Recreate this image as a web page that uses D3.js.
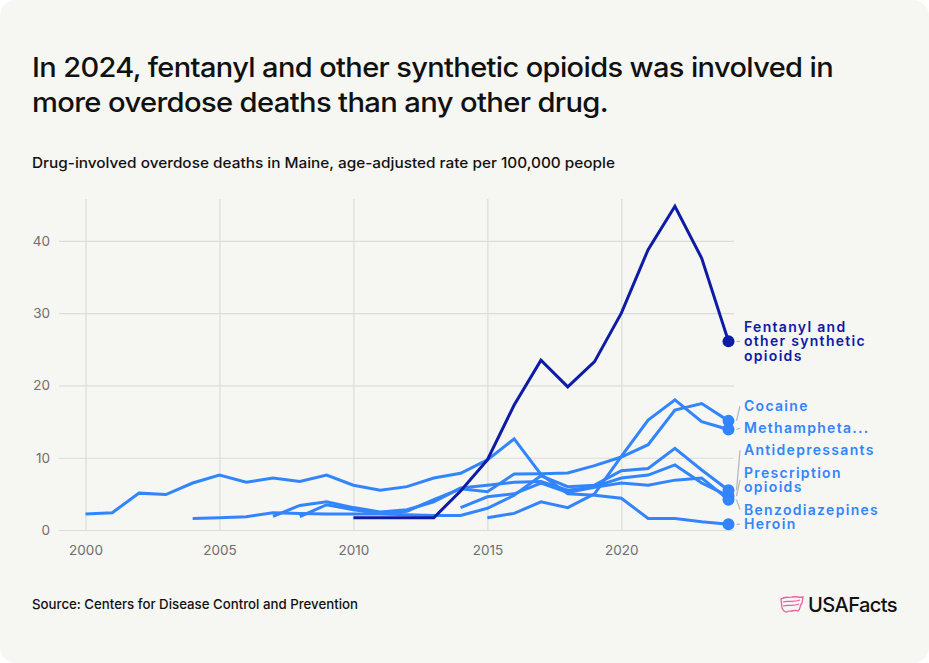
<!DOCTYPE html>
<html>
<head>
<meta charset="utf-8">
<script src="https://cdn.jsdelivr.net/npm/d3@7"></script>
<style>
  html, body { margin: 0; padding: 0; background: #ffffff; }
  svg { display: block; }
  text { font-family: Inter, "Noto Sans", sans-serif; }
</style>
</head>
<body>
<svg id="chart" width="929" height="663"></svg>
<script>
// ---------------- DATA ----------------
const titleLines = [
  "In 2024, fentanyl and other synthetic opioids was involved in",
  "more overdose deaths than any other drug."
];
const subtitle = "Drug-involved overdose deaths in Maine, age-adjusted rate per 100,000 people";
const sourceText = "Source: Centers for Disease Control and Prevention";

const xTicks = [2000, 2005, 2010, 2015, 2020];
const yTicks = [0, 10, 20, 30, 40];

const seriesNames = ["Heroin", "Antidepressants", "Prescription opioids", "Benzodiazepines",
                     "Cocaine", "Methamphetamine", "Fentanyl and other synthetic opioids"];
const startYears = [2000, 2004, 2007, 2014, 2008, 2015, 2010];

const heroin = [2.2, 2.4, 5.1, 4.9, 6.5, 7.6, 6.6, 7.2, 6.7, 7.6, 6.2, 5.5, 6.0, 7.2, 7.85,
                9.7, 12.6, 7.7, 5.0, 4.8, 4.4, 1.6, 1.6, 1.15, 0.8];
const antidepressants = [1.6, 1.7, 1.85, 2.4, 2.3, 2.2, 2.2, 2.2, 2.1, 2.0, 2.0,
                         3.0, 4.8, 7.5, 6.0, 6.2, 8.2, 8.5, 11.3, 8.3, 5.5];
const prescriptionOpioids = [1.9, 3.4, 3.9, 3.1, 2.5, 2.8, 3.9, 5.8, 6.2, 6.6, 6.7,
                             5.5, 6.0, 7.2, 7.6, 9.0, 6.5, 4.7];
const benzodiazepines = [3.1, 4.6, 5.0, 6.5, 5.2, 5.9, 6.5, 6.2, 6.9, 7.2, 4.2];
const cocaine = [1.85, 3.5, 2.8, 2.3, 2.6, 4.2, 5.7, 5.3, 7.75, 7.8, 7.9, 8.9, 10.1,
                 11.8, 16.6, 17.5, 15.1];
const methamphetamine = [1.7, 2.3, 3.9, 3.1, 5.0, 10.2, 15.2, 18.0, 15.0, 13.9];
const fentanyl = [1.7, 1.7, 1.7, 1.7, 5.4, 9.7, 17.3, 23.5, 19.8, 23.3, 30.0, 38.8,
                  44.8, 37.6, 26.1];

const seriesValues = [heroin, antidepressants, prescriptionOpioids, benzodiazepines,
                      cocaine, methamphetamine, fentanyl];
const labelLines = [
  ["Heroin"], ["Antidepressants"], ["Prescription", "opioids"], ["Benzodiazepines"],
  ["Cocaine"], ["Methampheta..."], ["Fentanyl and", "other synthetic", "opioids"]
];
const highlight = "Fentanyl and other synthetic opioids";

// ---------------- STYLE ----------------
const W = 929, H = 663;
const lightBlue = "#3385ff";
const darkBlue = "#0d1ba6";
const gridColor = "#dcdcd8";

const svg = d3.select("#chart");

svg.append("rect").attr("x", 0).attr("y", 0).attr("width", W).attr("height", H)
  .attr("rx", 16).attr("fill", "#f6f6f2");

// Title
const tl = [[32, 77, 801], [32, 112, 576]];
titleLines.forEach((t, i) => {
  svg.append("text").attr("x", tl[i][0]).attr("y", tl[i][1])
    .attr("font-family", "Roboto, sans-serif")
    .attr("font-size", 27.5).attr("font-weight", 500).attr("fill", "#111")
    .attr("letter-spacing", "-0.6px")
    .attr("textLength", tl[i][2]).attr("lengthAdjust", "spacingAndGlyphs")
    .text(t);
});
svg.append("text").attr("x", 32).attr("y", 168)
  .attr("font-family", "Roboto, sans-serif")
  .attr("font-size", 14.5).attr("font-weight", 500).attr("fill", "#111")
  .attr("textLength", 583).attr("lengthAdjust", "spacingAndGlyphs")
  .text(subtitle);

// Scales
const x = d3.scaleLinear().domain([2000, 2024]).range([85.5, 728.5]);
const y = d3.scaleLinear().domain([0, 45.8]).range([530, 199]);

// Axes / gridlines
const gx = svg.append("g").attr("transform", "translate(0,530)")
  .call(d3.axisBottom(x).tickValues(xTicks).tickFormat(d3.format("d"))
    .tickSize(-331).tickPadding(15));
const gy = svg.append("g").attr("transform", "translate(59,0)")
  .call(d3.axisLeft(y).tickValues(yTicks).tickSize(-675).tickPadding(9));
[gx, gy].forEach(g => {
  g.select(".domain").remove();
  g.selectAll(".tick line").attr("stroke", gridColor).attr("stroke-width", 1.2);
  g.selectAll(".tick text").attr("fill", "#6e6e6e").attr("font-size", 13.5)
    .attr("font-family", "Inter, sans-serif").attr("font-weight", 400);
});

// Build series
const series = seriesNames.map((name, i) => ({
  name,
  color: name === highlight ? darkBlue : lightBlue,
  points: seriesValues[i].map((v, j) => ({ year: startYears[i] + j, value: v })),
  lines: labelLines[i]
}));

const line = d3.line().x(d => x(d.year)).y(d => y(d.value));

const order = series.filter(s => s.name !== highlight).concat(series.filter(s => s.name === highlight));
svg.append("g").selectAll("path").data(order).join("path")
  .attr("d", s => line(s.points))
  .attr("fill", "none").attr("stroke", s => s.color)
  .attr("stroke-width", 3).attr("stroke-linejoin", "miter").attr("stroke-linecap", "butt");

// End dots
svg.append("g").selectAll("circle").data(order).join("circle")
  .attr("cx", s => x(s.points[s.points.length - 1].year))
  .attr("cy", s => y(s.points[s.points.length - 1].value))
  .attr("r", 6).attr("fill", s => s.color);

// Label layout: push down to avoid overlap, then stack upward from a floor
const lh = 14.7, gap = 7.5;
const labs = series.map(s => {
  const last = s.points[s.points.length - 1];
  return { s, dotX: x(last.year), dotY: y(last.value), h: s.lines.length * lh };
}).sort((a, b) => a.dotY - b.dotY);
labs.forEach((l, i) => {
  l.cy = l.dotY;
  if (i > 0) { const p = labs[i - 1]; l.cy = Math.max(l.cy, p.cy + p.h / 2 + l.h / 2 + gap); }
});
const floorY = labs[labs.length - 1].dotY;
for (let i = labs.length - 1; i >= 0; i--) {
  const l = labs[i];
  if (i === labs.length - 1) { l.cy = Math.min(l.cy, floorY); continue; }
  const n = labs[i + 1];
  // the bottom-most label may sit flush against the one above it
  const g = (i === labs.length - 2) ? 0 : gap;
  l.cy = Math.min(l.cy, n.cy - (n.h / 2 + l.h / 2 + g));
}

const labelX = 744;
const lg = svg.append("g");
labs.forEach(l => {
  lg.append("line")
    .attr("x1", l.dotX + 8).attr("y1", l.dotY)
    .attr("x2", labelX - 4).attr("y2", l.cy)
    .attr("stroke", "#b5b5b5").attr("stroke-width", 1.2);
  const top = l.cy - l.h / 2 + lh / 2;
  l.s.lines.forEach((ln, k) => {
    lg.append("text").attr("fill", l.s.color)
      .attr("font-size", 14).attr("font-weight", 600).attr("letter-spacing", "1.3px")
      .attr("x", labelX).attr("y", top + k * lh).attr("dy", "0.36em").text(ln);
  });
});

// Source
svg.append("text").attr("x", 32).attr("y", 609)
  .attr("font-family", "Roboto, sans-serif")
  .attr("font-size", 13.5).attr("font-weight", 500).attr("fill", "#111")
  .attr("textLength", 326).attr("lengthAdjust", "spacingAndGlyphs")
  .text(sourceText);

// Logo
const logo = svg.append("g");
logo.append("path")
  .attr("d", "M781,599 C785,596 789,598 792,597 C796,596 799,598 803,597 L802,603 C799,606 801,609 798,611 C795,609 792,612 789,611 C786,613 784,612 782,608 Z M783,602 C788,600 793,603 800,600 M783,606 C789,604 793,607 799,604")
  .attr("fill", "none").attr("stroke", "#ee5fa0").attr("stroke-width", 1.3);
logo.append("text").attr("x", 808).attr("y", 612)
  .attr("font-size", 20).attr("font-weight", 500).attr("fill", "#111")
  .attr("letter-spacing", "-0.6px")
  .attr("textLength", 89).attr("lengthAdjust", "spacingAndGlyphs")
  .text("USAFacts");
</script>
</body>
</html>
